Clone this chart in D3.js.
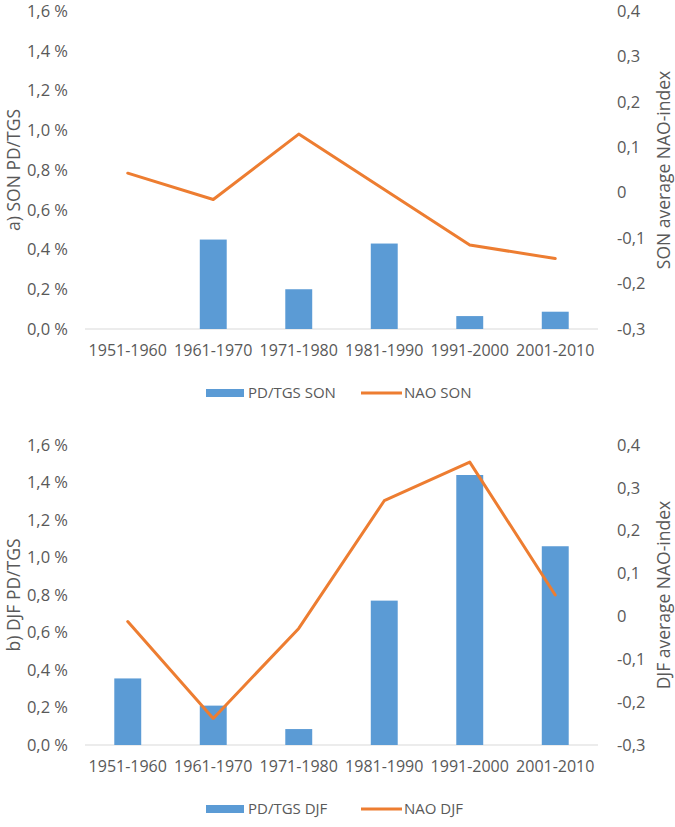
<!DOCTYPE html>
<html>
<head>
<meta charset="utf-8">
<script src="https://cdn.jsdelivr.net/npm/d3@7"></script>
<style>
  html, body { margin: 0; padding: 0; background: #fff; }
  svg { display: block; font-family: "Open Sans", sans-serif; }
</style>
</head>
<body>
<svg id="chart" width="675" height="827"></svg>
<script>
// ---- data ----
const categories = ["1951-1960", "1961-1970", "1971-1980", "1981-1990", "1991-2000", "2001-2010"];
const pdSON  = [0, 0.45, 0.20, 0.43, 0.065, 0.087];     // % PD/TGS (left axis)
const naoSON = [0.043, -0.015, 0.129, 0.007, -0.115, -0.145]; // NAO index (right axis)
const pdDJF  = [0.355, 0.21, 0.085, 0.77, 1.44, 1.06];
const naoDJF = [-0.012, -0.238, -0.028, 0.27, 0.36, 0.05];
const leftTicks  = [0, 0.2, 0.4, 0.6, 0.8, 1.0, 1.2, 1.4, 1.6];
const rightTicks = [-0.3, -0.2, -0.1, 0, 0.1, 0.2, 0.3, 0.4];

const panels = [
  { top: 11,  bottom: 329, pd: pdSON, nao: naoSON,
    leftTitle: "a) SON PD/TGS", rightTitle: "SON average NAO-index",
    barLabel: "PD/TGS SON", lineLabel: "NAO SON" },
  { top: 445, bottom: 745, pd: pdDJF, nao: naoDJF,
    leftTitle: "b) DJF PD/TGS", rightTitle: "DJF average NAO-index",
    barLabel: "PD/TGS DJF", lineLabel: "NAO DJF" }
];

// ---- styles ----
const BLUE = "#5B9BD5", ORANGE = "#ED7D31", TEXT = "#595959", GRID = "#D9D9D9";
const plotLeft = 85, plotRight = 598;

const loc = d3.formatLocale({decimal: ",", thousands: " ", grouping: [3], currency: ["", ""], minus: "-"});
const fmtPct = d => loc.format(".1f")(d) + " %";
const fmtNao = d => d === 0 ? "0" : loc.format(".1f")(d);

const svg = d3.select("#chart");

panels.forEach(p => {
  const g = svg.append("g");
  const x = d3.scaleBand().domain(categories).range([plotLeft, plotRight]).paddingInner(0.685).paddingOuter(0.3425);
  const yL = d3.scaleLinear().domain([0, 1.6]).range([p.bottom, p.top]);
  const yR = d3.scaleLinear().domain([-0.3, 0.4]).range([p.bottom, p.top]);

  // baseline
  g.append("line")
    .attr("x1", plotLeft).attr("x2", plotRight)
    .attr("y1", yL(0)).attr("y2", yL(0))
    .attr("stroke", GRID).attr("stroke-width", 1);

  // bars
  g.selectAll("rect.bar").data(categories).enter().append("rect")
    .attr("class", "bar")
    .attr("x", d => x(d))
    .attr("width", x.bandwidth())
    .attr("y", (d, i) => yL(p.pd[i]))
    .attr("height", (d, i) => yL(0) - yL(p.pd[i]))
    .attr("fill", BLUE);

  // line
  const line = d3.line()
    .x((d, i) => x(categories[i]) + x.bandwidth() / 2)
    .y(d => yR(d));
  g.append("path").datum(p.nao)
    .attr("d", line)
    .attr("fill", "none")
    .attr("stroke", ORANGE)
    .attr("stroke-width", 3)
    .attr("stroke-linejoin", "round")
    .attr("stroke-linecap", "round");

  // left axis
  const axL = g.append("g").attr("transform", `translate(${plotLeft - 17},0)`)
    .call(d3.axisLeft(yL).tickValues(leftTicks).tickFormat(fmtPct).tickSize(0).tickPadding(0));
  axL.select(".domain").remove();
  axL.selectAll("text").attr("fill", TEXT).style("font-size", "16.5px").style("font-family", "Open Sans, sans-serif");

  // right axis
  const axR = g.append("g").attr("transform", `translate(${plotRight + 19},0)`)
    .call(d3.axisRight(yR).tickValues(rightTicks).tickFormat(fmtNao).tickSize(0).tickPadding(0));
  axR.select(".domain").remove();
  axR.selectAll("text").attr("fill", TEXT).style("font-size", "16.5px").style("font-family", "Open Sans, sans-serif");

  // bottom axis
  const axB = g.append("g").attr("transform", `translate(0,${p.bottom})`)
    .call(d3.axisBottom(x).tickSize(0).tickPadding(16));
  axB.select(".domain").remove();
  axB.selectAll("text").attr("fill", TEXT).style("font-size", "16px").style("font-family", "Open Sans, sans-serif");

  const mid = (p.top + p.bottom) / 2;
  // axis titles
  g.append("text")
    .attr("transform", `translate(20,${mid}) rotate(-90)`)
    .attr("text-anchor", "middle")
    .attr("fill", TEXT).style("font-size", "17.5px")
    .text(p.leftTitle);
  g.append("text")
    .attr("transform", `translate(670,${mid}) rotate(-90)`)
    .attr("text-anchor", "middle")
    .attr("fill", TEXT).style("font-size", "17.5px")
    .text(p.rightTitle);

  // legend
  const ly = p.bottom + 64;
  const lg = g.append("g");
  lg.append("rect").attr("x", 206).attr("y", ly - 4).attr("width", 38).attr("height", 8).attr("fill", BLUE);
  lg.append("text").attr("x", 248).attr("y", ly).attr("dy", "0.35em")
    .attr("fill", TEXT).style("font-size", "15px").text(p.barLabel);
  lg.append("line").attr("x1", 361).attr("x2", 402).attr("y1", ly).attr("y2", ly)
    .attr("stroke", ORANGE).attr("stroke-width", 3);
  lg.append("text").attr("x", 404).attr("y", ly).attr("dy", "0.35em")
    .attr("fill", TEXT).style("font-size", "15px").text(p.lineLabel);
});
</script>
</body>
</html>
